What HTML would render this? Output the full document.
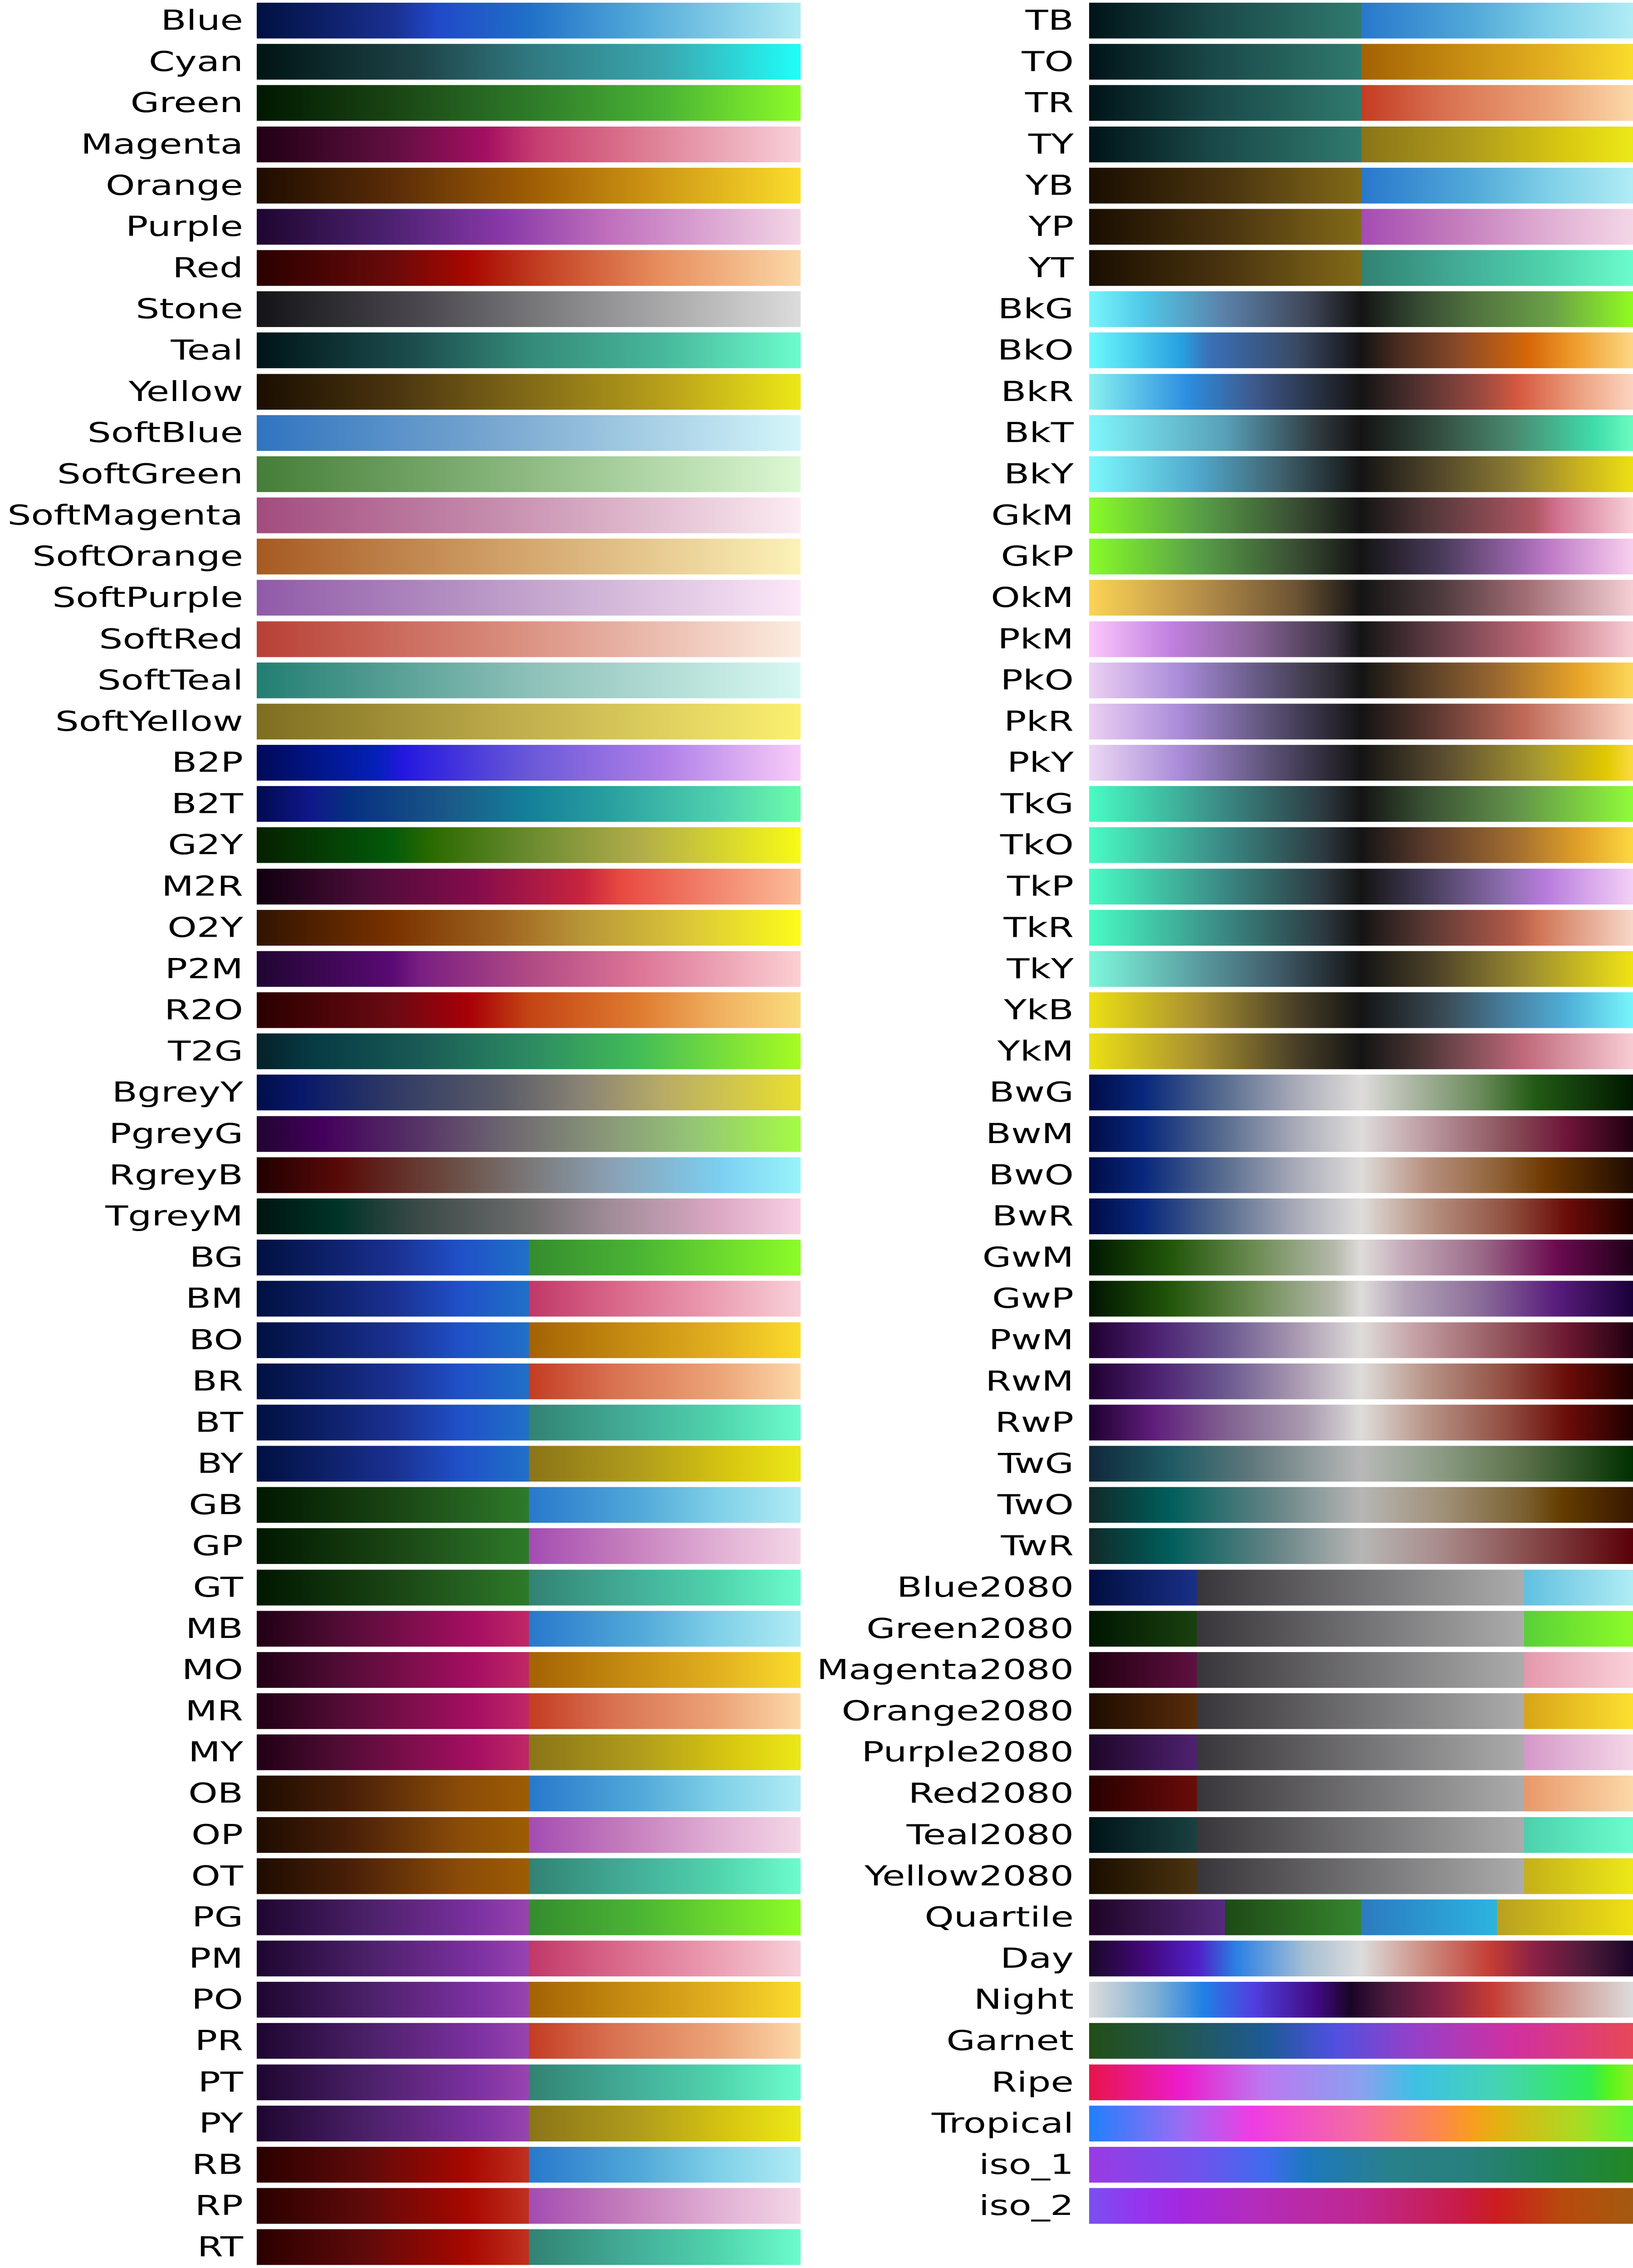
<!DOCTYPE html>
<html><head><meta charset="utf-8">
<style>
html,body{margin:0;padding:0;width:3600px;height:100vh;overflow:hidden;background:#fff;}
svg.root{display:block;width:3600px;height:100vh;}
.page{position:relative;width:3600px;height:6720px;background:#fff;font-family:"DejaVu Sans","Liberation Sans",sans-serif;}
.col{position:absolute;top:8px;}
.r{height:122.18px;position:relative;}
.r:last-child{height:106px;}
.l{position:absolute;top:0;height:106px;line-height:106px;font-size:82px;text-align:right;color:#000;white-space:nowrap;}
.b{position:absolute;top:0;height:106px;}
#L{left:0;width:1765px}
#L .l{left:0;width:536px}
#L .b{left:566px;width:1199px}
#R{left:1800px;width:1800px}
#R .l{left:0;width:567px}
#R .b{left:601px;width:1199px}
.h{display:flex;}
.h>i{flex:1;height:106px;display:block}
</style></head><body>
<svg class="root" viewBox="0 0 3600 6720" preserveAspectRatio="none" xmlns="http://www.w3.org/2000/svg">
<foreignObject x="0" y="0" width="3600" height="6720">
<div class="page" xmlns="http://www.w3.org/1999/xhtml">
<div class="col" id="L">
<div class="r"><div class="l">Blue</div><div class="b" style="background:linear-gradient(90deg,#001040,#1a3090 25%,#2148c8 33%,#2070c8 50%,#50a8d8 70%,#b0ecf4)"></div></div>
<div class="r"><div class="l">Cyan</div><div class="b" style="background:linear-gradient(90deg,#001414,#1e4448 30%,#307880 50%,#3aa8b0 75%,#20fefa)"></div></div>
<div class="r"><div class="l">Green</div><div class="b" style="background:linear-gradient(90deg,#001800,#1a4414 25%,#2e7a2a 50%,#4ab434 75%,#8cfc28)"></div></div>
<div class="r"><div class="l">Magenta</div><div class="b" style="background:linear-gradient(90deg,#200014,#600f40 25%,#a40f62 42%,#c84070 52%,#dc7890 70%,#f8d0d8)"></div></div>
<div class="r"><div class="l">Orange</div><div class="b" style="background:linear-gradient(90deg,#1e0c00,#5a2c08 25%,#9e5c04 50%,#c88e12 70%,#fadc2c)"></div></div>
<div class="r"><div class="l">Purple</div><div class="b" style="background:linear-gradient(90deg,#1e0630,#4e2272 25%,#8838a8 45%,#c070bc 65%,#f4d6e6)"></div></div>
<div class="r"><div class="l">Red</div><div class="b" style="background:linear-gradient(90deg,#2a0000,#6a0a0a 25%,#a80800 39%,#c84a2a 55%,#e89060 75%,#fcd8a8)"></div></div>
<div class="r"><div class="l">Stone</div><div class="b" style="background:linear-gradient(90deg,#141418,#4a484e 30%,#8a8a8c 60%,#dcdcdc)"></div></div>
<div class="r"><div class="l">Teal</div><div class="b" style="background:linear-gradient(90deg,#001418,#1e5050 30%,#348a78 50%,#48b89c 75%,#6cfccc)"></div></div>
<div class="r"><div class="l">Yellow</div><div class="b" style="background:linear-gradient(90deg,#1a0e00,#4a3410 25%,#826a18 50%,#b8a01a 75%,#ece818)"></div></div>
<div class="r"><div class="l">SoftBlue</div><div class="b" style="background:linear-gradient(90deg,#3074c0,#7aa8d0 45%,#d4f6fa)"></div></div>
<div class="r"><div class="l">SoftGreen</div><div class="b" style="background:linear-gradient(90deg,#457e38,#86b47a 45%,#dcf8d4)"></div></div>
<div class="r"><div class="l">SoftMagenta</div><div class="b" style="background:linear-gradient(90deg,#a24c7e,#c68eae 45%,#fcecf2)"></div></div>
<div class="r"><div class="l">SoftOrange</div><div class="b" style="background:linear-gradient(90deg,#a65a22,#d0a068 45%,#fcf2b8)"></div></div>
<div class="r"><div class="l">SoftPurple</div><div class="b" style="background:linear-gradient(90deg,#905aa8,#bc9cc8 45%,#fce8f8)"></div></div>
<div class="r"><div class="l">SoftRed</div><div class="b" style="background:linear-gradient(90deg,#b84036,#d88a7a 45%,#fcece0)"></div></div>
<div class="r"><div class="l">SoftTeal</div><div class="b" style="background:linear-gradient(90deg,#227e72,#8cc0b8 50%,#d8f8f2)"></div></div>
<div class="r"><div class="l">SoftYellow</div><div class="b" style="background:linear-gradient(90deg,#7e6e20,#bcaa4a 45%,#fcf070)"></div></div>
<div class="r"><div class="l">B2P</div><div class="b" style="background:linear-gradient(90deg,#000a58,#0420b8 22%,#2418e0 27%,#6a58d8 50%,#b080e8 75%,#f8ccf8)"></div></div>
<div class="r"><div class="l">B2T</div><div class="b" style="background:linear-gradient(90deg,#000a50,#10188a 10%,#063080 17%,#1a5888 35%,#14809a 50%,#2aa0a0 65%,#50d0ae 85%,#6cfcac)"></div></div>
<div class="r"><div class="l">G2Y</div><div class="b" style="background:linear-gradient(90deg,#062000,#045a0a 25%,#2a6a00 32%,#6a8a30 50%,#b0ac4a 70%,#f8fa16)"></div></div>
<div class="r"><div class="l">M2R</div><div class="b" style="background:linear-gradient(90deg,#100010,#4a0c38 20%,#840c4c 40%,#c8243e 60%,#e84a40 67%,#fcbc98)"></div></div>
<div class="r"><div class="l">O2Y</div><div class="b" style="background:linear-gradient(90deg,#301400,#7a3200 25%,#9e6420 45%,#b89638 60%,#dcc838 80%,#fcfc1a)"></div></div>
<div class="r"><div class="l">P2M</div><div class="b" style="background:linear-gradient(90deg,#200632,#5a0a74 25%,#7a1e82 30%,#b04a84 50%,#dc7496 70%,#fccfd2)"></div></div>
<div class="r"><div class="l">R2O</div><div class="b" style="background:linear-gradient(90deg,#2a0000,#6a0a12 25%,#a80008 39%,#c44414 50%,#de7a30 70%,#f0b060 85%,#fadc7c)"></div></div>
<div class="r"><div class="l">T2G</div><div class="b" style="background:linear-gradient(90deg,#062028,#063a44 10%,#1a5a56 30%,#2c8a62 50%,#42bc58 70%,#a8fc22)"></div></div>
<div class="r"><div class="l">BgreyY</div><div class="b" style="background:linear-gradient(90deg,#000e48,#08186a 8%,#303a64 25%,#5a5c68 45%,#8a8474 60%,#b8ac66 75%,#e8e030)"></div></div>
<div class="r"><div class="l">PgreyG</div><div class="b" style="background:linear-gradient(90deg,#200430,#44005c 12%,#563466 30%,#6c6470 45%,#8a9a78 65%,#94c476 80%,#a4fc44)"></div></div>
<div class="r"><div class="l">RgreyB</div><div class="b" style="background:linear-gradient(90deg,#200000,#580a08 15%,#6a4a40 35%,#7a7878 50%,#8aa0b4 65%,#7ccef0 85%,#98f4fa)"></div></div>
<div class="r"><div class="l">TgreyM</div><div class="b" style="background:linear-gradient(90deg,#001410,#003428 15%,#3c4a48 30%,#6c6c6c 50%,#a08c98 65%,#dca8c4 85%,#f8d0e4)"></div></div>
<div class="r"><div class="l">BG</div><div class="b h"><i style="background:linear-gradient(90deg,#001040,#1a3090 50%,#2050c8 75%,#2070c8)"></i><i style="background:linear-gradient(90deg,#358c2e,#4ab434 40%,#8cfc28)"></i></div></div>
<div class="r"><div class="l">BM</div><div class="b h"><i style="background:linear-gradient(90deg,#001040,#1a3090 50%,#2050c8 75%,#2070c8)"></i><i style="background:linear-gradient(90deg,#c03868,#d86488 30%,#eca0b4 70%,#f8d0d8)"></i></div></div>
<div class="r"><div class="l">BO</div><div class="b h"><i style="background:linear-gradient(90deg,#001040,#1a3090 50%,#2050c8 75%,#2070c8)"></i><i style="background:linear-gradient(90deg,#a46204,#c48a10 35%,#e2b020 70%,#fadc2c)"></i></div></div>
<div class="r"><div class="l">BR</div><div class="b h"><i style="background:linear-gradient(90deg,#001040,#1a3090 50%,#2050c8 75%,#2070c8)"></i><i style="background:linear-gradient(90deg,#c43c22,#d87050 30%,#eca478 70%,#fcd8a8)"></i></div></div>
<div class="r"><div class="l">BT</div><div class="b h"><i style="background:linear-gradient(90deg,#001040,#1a3090 50%,#2050c8 75%,#2070c8)"></i><i style="background:linear-gradient(90deg,#328272,#44b09a 40%,#50d4ac 70%,#6cfccc)"></i></div></div>
<div class="r"><div class="l">BY</div><div class="b h"><i style="background:linear-gradient(90deg,#001040,#1a3090 50%,#2050c8 75%,#2070c8)"></i><i style="background:linear-gradient(90deg,#8a7418,#b09c1c 40%,#d8c810 75%,#ece818)"></i></div></div>
<div class="r"><div class="l">GB</div><div class="b h"><i style="background:linear-gradient(90deg,#001800,#1a4414 50%,#2e7a2a)"></i><i style="background:linear-gradient(90deg,#2878cc,#50a8d8 40%,#80d0e8 70%,#b0ecf4)"></i></div></div>
<div class="r"><div class="l">GP</div><div class="b h"><i style="background:linear-gradient(90deg,#001800,#1a4414 50%,#2e7a2a)"></i><i style="background:linear-gradient(90deg,#a44cb2,#c47cbc 35%,#e0b0d4 70%,#f4d6e6)"></i></div></div>
<div class="r"><div class="l">GT</div><div class="b h"><i style="background:linear-gradient(90deg,#001800,#1a4414 50%,#2e7a2a)"></i><i style="background:linear-gradient(90deg,#328272,#44b09a 40%,#50d4ac 70%,#6cfccc)"></i></div></div>
<div class="r"><div class="l">MB</div><div class="b h"><i style="background:linear-gradient(90deg,#200014,#500c34 30%,#a60f62 80%,#c02866)"></i><i style="background:linear-gradient(90deg,#2878cc,#50a8d8 40%,#80d0e8 70%,#b0ecf4)"></i></div></div>
<div class="r"><div class="l">MO</div><div class="b h"><i style="background:linear-gradient(90deg,#200014,#500c34 30%,#a60f62 80%,#c02866)"></i><i style="background:linear-gradient(90deg,#a46204,#c48a10 35%,#e2b020 70%,#fadc2c)"></i></div></div>
<div class="r"><div class="l">MR</div><div class="b h"><i style="background:linear-gradient(90deg,#200014,#500c34 30%,#a60f62 80%,#c02866)"></i><i style="background:linear-gradient(90deg,#c43c22,#d87050 30%,#eca478 70%,#fcd8a8)"></i></div></div>
<div class="r"><div class="l">MY</div><div class="b h"><i style="background:linear-gradient(90deg,#200014,#500c34 30%,#a60f62 80%,#c02866)"></i><i style="background:linear-gradient(90deg,#8a7418,#b09c1c 40%,#d8c810 75%,#ece818)"></i></div></div>
<div class="r"><div class="l">OB</div><div class="b h"><i style="background:linear-gradient(90deg,#1e0c00,#4a2008 35%,#8a4c08 75%,#9e5c04)"></i><i style="background:linear-gradient(90deg,#2878cc,#50a8d8 40%,#80d0e8 70%,#b0ecf4)"></i></div></div>
<div class="r"><div class="l">OP</div><div class="b h"><i style="background:linear-gradient(90deg,#1e0c00,#4a2008 35%,#8a4c08 75%,#9e5c04)"></i><i style="background:linear-gradient(90deg,#a44cb2,#c47cbc 35%,#e0b0d4 70%,#f4d6e6)"></i></div></div>
<div class="r"><div class="l">OT</div><div class="b h"><i style="background:linear-gradient(90deg,#1e0c00,#4a2008 35%,#8a4c08 75%,#9e5c04)"></i><i style="background:linear-gradient(90deg,#328272,#44b09a 40%,#50d4ac 70%,#6cfccc)"></i></div></div>
<div class="r"><div class="l">PG</div><div class="b h"><i style="background:linear-gradient(90deg,#1e0630,#4a2068 40%,#7c30a0 80%,#9844b0)"></i><i style="background:linear-gradient(90deg,#358c2e,#4ab434 40%,#8cfc28)"></i></div></div>
<div class="r"><div class="l">PM</div><div class="b h"><i style="background:linear-gradient(90deg,#1e0630,#4a2068 40%,#7c30a0 80%,#9844b0)"></i><i style="background:linear-gradient(90deg,#c03868,#d86488 30%,#eca0b4 70%,#f8d0d8)"></i></div></div>
<div class="r"><div class="l">PO</div><div class="b h"><i style="background:linear-gradient(90deg,#1e0630,#4a2068 40%,#7c30a0 80%,#9844b0)"></i><i style="background:linear-gradient(90deg,#a46204,#c48a10 35%,#e2b020 70%,#fadc2c)"></i></div></div>
<div class="r"><div class="l">PR</div><div class="b h"><i style="background:linear-gradient(90deg,#1e0630,#4a2068 40%,#7c30a0 80%,#9844b0)"></i><i style="background:linear-gradient(90deg,#c43c22,#d87050 30%,#eca478 70%,#fcd8a8)"></i></div></div>
<div class="r"><div class="l">PT</div><div class="b h"><i style="background:linear-gradient(90deg,#1e0630,#4a2068 40%,#7c30a0 80%,#9844b0)"></i><i style="background:linear-gradient(90deg,#328272,#44b09a 40%,#50d4ac 70%,#6cfccc)"></i></div></div>
<div class="r"><div class="l">PY</div><div class="b h"><i style="background:linear-gradient(90deg,#1e0630,#4a2068 40%,#7c30a0 80%,#9844b0)"></i><i style="background:linear-gradient(90deg,#8a7418,#b09c1c 40%,#d8c810 75%,#ece818)"></i></div></div>
<div class="r"><div class="l">RB</div><div class="b h"><i style="background:linear-gradient(90deg,#2a0000,#600a0a 40%,#a80800 78%,#c03020)"></i><i style="background:linear-gradient(90deg,#2878cc,#50a8d8 40%,#80d0e8 70%,#b0ecf4)"></i></div></div>
<div class="r"><div class="l">RP</div><div class="b h"><i style="background:linear-gradient(90deg,#2a0000,#600a0a 40%,#a80800 78%,#c03020)"></i><i style="background:linear-gradient(90deg,#a44cb2,#c47cbc 35%,#e0b0d4 70%,#f4d6e6)"></i></div></div>
<div class="r"><div class="l">RT</div><div class="b h"><i style="background:linear-gradient(90deg,#2a0000,#600a0a 40%,#a80800 78%,#c03020)"></i><i style="background:linear-gradient(90deg,#328272,#44b09a 40%,#50d4ac 70%,#6cfccc)"></i></div></div>
</div>

<div class="col" id="R">
<div class="r"><div class="l">TB</div><div class="b h"><i style="background:linear-gradient(90deg,#001418,#1a4848 45%,#307a6e)"></i><i style="background:linear-gradient(90deg,#2878cc,#50a8d8 40%,#80d0e8 70%,#b0ecf4)"></i></div></div>
<div class="r"><div class="l">TO</div><div class="b h"><i style="background:linear-gradient(90deg,#001418,#1a4848 45%,#307a6e)"></i><i style="background:linear-gradient(90deg,#a46204,#c48a10 35%,#e2b020 70%,#fadc2c)"></i></div></div>
<div class="r"><div class="l">TR</div><div class="b h"><i style="background:linear-gradient(90deg,#001418,#1a4848 45%,#307a6e)"></i><i style="background:linear-gradient(90deg,#c43c22,#d87050 30%,#eca478 70%,#fcd8a8)"></i></div></div>
<div class="r"><div class="l">TY</div><div class="b h"><i style="background:linear-gradient(90deg,#001418,#1a4848 45%,#307a6e)"></i><i style="background:linear-gradient(90deg,#8a7418,#b09c1c 40%,#d8c810 75%,#ece818)"></i></div></div>
<div class="r"><div class="l">YB</div><div class="b h"><i style="background:linear-gradient(90deg,#1a0e00,#4a3410 50%,#826a18)"></i><i style="background:linear-gradient(90deg,#2878cc,#50a8d8 40%,#80d0e8 70%,#b0ecf4)"></i></div></div>
<div class="r"><div class="l">YP</div><div class="b h"><i style="background:linear-gradient(90deg,#1a0e00,#4a3410 50%,#826a18)"></i><i style="background:linear-gradient(90deg,#a44cb2,#c47cbc 35%,#e0b0d4 70%,#f4d6e6)"></i></div></div>
<div class="r"><div class="l">YT</div><div class="b h"><i style="background:linear-gradient(90deg,#1a0e00,#4a3410 50%,#826a18)"></i><i style="background:linear-gradient(90deg,#328272,#44b09a 40%,#50d4ac 70%,#6cfccc)"></i></div></div>
<div class="r"><div class="l">BkG</div><div class="b" style="background:linear-gradient(90deg,#78f6fc,#50c8e8 10%,#5a80a8 25%,#40485a 40%,#141414 50%,#344832 60%,#50703e 70%,#6aa048 85%,#90fc20)"></div></div>
<div class="r"><div class="l">BkO</div><div class="b" style="background:linear-gradient(90deg,#6cfafc,#28a0e0 17%,#3a70b8 22%,#3a4a66 38%,#141414 50%,#4a2c20 57%,#8a4a28 68%,#d86808 81%,#f0a030 90%,#fcd884)"></div></div>
<div class="r"><div class="l">BkR</div><div class="b" style="background:linear-gradient(90deg,#88f2f0,#2c8ee0 18%,#3e5a8e 30%,#222630 45%,#141414 50%,#503030 60%,#9a4a40 72%,#d65a40 79%,#eca080 90%,#fcd4c0)"></div></div>
<div class="r"><div class="l">BkT</div><div class="b" style="background:linear-gradient(90deg,#80f6fc,#58a0b8 25%,#303a3e 42%,#141414 50%,#30443a 62%,#4a8a70 78%,#40dcaa 93%,#6cfcc0)"></div></div>
<div class="r"><div class="l">BkY</div><div class="b" style="background:linear-gradient(90deg,#7cf8fc,#50a8cc 20%,#40626e 35%,#141414 50%,#4a4028 62%,#8a7a34 78%,#c8b020 90%,#ece014)"></div></div>
<div class="r"><div class="l">GkM</div><div class="b" style="background:linear-gradient(90deg,#88fc28,#58a048 20%,#3a4e34 38%,#141414 50%,#503638 62%,#b05864 82%,#d07090 86%,#f8d0d8)"></div></div>
<div class="r"><div class="l">GkP</div><div class="b" style="background:linear-gradient(90deg,#88fc28,#58a048 20%,#3a4e34 38%,#141414 50%,#4a3c5c 65%,#a068b0 80%,#c07cc8 85%,#f8d0ee)"></div></div>
<div class="r"><div class="l">OkM</div><div class="b" style="background:linear-gradient(90deg,#fcd454,#b8904a 20%,#6c5434 38%,#141414 50%,#503c40 65%,#a06c74 80%,#f4d0d4)"></div></div>
<div class="r"><div class="l">PkM</div><div class="b" style="background:linear-gradient(90deg,#fcc8fc,#c080e0 15%,#8a6498 30%,#3c3444 45%,#141414 50%,#583840 62%,#c06a78 82%,#f8ccd4)"></div></div>
<div class="r"><div class="l">PkO</div><div class="b" style="background:linear-gradient(90deg,#ecd0f4,#a88ad8 17%,#6a5e8a 30%,#2e2c34 45%,#141414 50%,#5a4028 62%,#9a6830 75%,#e8a428 90%,#fcd85a)"></div></div>
<div class="r"><div class="l">PkR</div><div class="b" style="background:linear-gradient(90deg,#ecd0f4,#a88ad8 17%,#6a5e8a 30%,#141414 50%,#5a3830 63%,#c06a58 80%,#fcd4c4)"></div></div>
<div class="r"><div class="l">PkY</div><div class="b" style="background:linear-gradient(90deg,#ecd8f4,#a88ad8 17%,#6a5e8a 30%,#141414 50%,#5a4c30 65%,#a89a30 83%,#e0c800 95%,#fcdc40)"></div></div>
<div class="r"><div class="l">TkG</div><div class="b" style="background:linear-gradient(90deg,#48fcc4,#3a8884 25%,#2c3a40 43%,#141414 50%,#3a5234 62%,#62904a 78%,#90fc3a)"></div></div>
<div class="r"><div class="l">TkO</div><div class="b" style="background:linear-gradient(90deg,#48fcc4,#3a8884 25%,#2c3a40 43%,#141414 50%,#5a3a2c 62%,#a06c30 78%,#e0a028 90%,#fcd840)"></div></div>
<div class="r"><div class="l">TkP</div><div class="b" style="background:linear-gradient(90deg,#48fcc4,#3a8884 25%,#2c3a40 43%,#141414 50%,#4a4060 63%,#8a6cac 76%,#b87cdc 84%,#f4d0f8)"></div></div>
<div class="r"><div class="l">TkR</div><div class="b" style="background:linear-gradient(90deg,#48fcc4,#3a8884 25%,#2c3a40 43%,#141414 50%,#5a3832 62%,#b05a4a 78%,#d07858 83%,#f8d8c8)"></div></div>
<div class="r"><div class="l">TkY</div><div class="b" style="background:linear-gradient(90deg,#7ef8dc,#5a9ca0 20%,#405a68 35%,#141414 50%,#4a4028 63%,#9a8a30 80%,#f0e414)"></div></div>
<div class="r"><div class="l">YkB</div><div class="b" style="background:linear-gradient(90deg,#ece014,#a89030 20%,#4a4028 38%,#141414 50%,#3a4a54 65%,#4a8cb0 80%,#50b0d8 88%,#78f6fc)"></div></div>
<div class="r"><div class="l">YkM</div><div class="b" style="background:linear-gradient(90deg,#ece014,#a89030 20%,#4a4028 38%,#141414 50%,#503838 62%,#c06a7c 80%,#f8ccd4)"></div></div>
<div class="r"><div class="l">BwG</div><div class="b" style="background:linear-gradient(90deg,#000c48,#08287c 10%,#5a6e90 25%,#a8aab8 38%,#dedcda 50%,#a8b4a0 60%,#6a8a5a 72%,#225a14 82%,#001800)"></div></div>
<div class="r"><div class="l">BwM</div><div class="b" style="background:linear-gradient(90deg,#000c48,#08287c 10%,#5a6e90 25%,#a8aab8 38%,#dedcda 50%,#bc9aa2 62%,#8a505a 77%,#6e1438 88%,#200010)"></div></div>
<div class="r"><div class="l">BwO</div><div class="b" style="background:linear-gradient(90deg,#000c48,#08287c 10%,#5a6e90 25%,#a8aab8 38%,#dedcda 50%,#b89080 62%,#906238 75%,#6e3800 84%,#200c00)"></div></div>
<div class="r"><div class="l">BwR</div><div class="b" style="background:linear-gradient(90deg,#000c48,#08287c 10%,#5a6e90 25%,#a8aab8 38%,#dedcda 50%,#b89484 62%,#905040 77%,#6a0c08 88%,#200000)"></div></div>
<div class="r"><div class="l">GwM</div><div class="b" style="background:linear-gradient(90deg,#001800,#22560a 15%,#6a8a50 30%,#b4b8aa 45%,#dedcda 50%,#c4aab8 58%,#9a6a88 72%,#6c0a50 86%,#200018)"></div></div>
<div class="r"><div class="l">GwP</div><div class="b" style="background:linear-gradient(90deg,#001400,#22560a 15%,#6a8a50 30%,#b4b8aa 45%,#dedcda 50%,#b4a4b8 58%,#8a6c98 72%,#581c7c 86%,#1a0038)"></div></div>
<div class="r"><div class="l">PwM</div><div class="b" style="background:linear-gradient(90deg,#1e0030,#4c2070 12%,#6a5890 25%,#a898b0 38%,#dedcda 50%,#c4a0a4 60%,#905058 77%,#6c1830 88%,#200010)"></div></div>
<div class="r"><div class="l">RwM</div><div class="b" style="background:linear-gradient(90deg,#1e0030,#4c2070 12%,#6a5890 25%,#a898b0 38%,#dedcda 50%,#b89488 62%,#904c40 77%,#6a0c08 88%,#200000)"></div></div>
<div class="r"><div class="l">RwP</div><div class="b" style="background:linear-gradient(90deg,#1e0030,#601e7c 12%,#806090 25%,#aa9cb0 40%,#dedcda 50%,#b89488 62%,#904c40 77%,#6a0c08 88%,#200000)"></div></div>
<div class="r"><div class="l">TwG</div><div class="b" style="background:linear-gradient(90deg,#10283a,#1e5a64 15%,#60787c 30%,#b8b8b8 50%,#8a9a82 65%,#5a7048 80%,#003000)"></div></div>
<div class="r"><div class="l">TwO</div><div class="b" style="background:linear-gradient(90deg,#102a28,#005e5c 15%,#6a8688 35%,#b6b6b4 50%,#a09078 65%,#7a6030 80%,#643c00 87%,#381800)"></div></div>
<div class="r"><div class="l">TwR</div><div class="b" style="background:linear-gradient(90deg,#102a28,#005e5c 15%,#6a8688 35%,#b6b6b4 50%,#a88a8a 65%,#8a5050 80%,#5a0008)"></div></div>
<div class="r"><div class="l">Blue2080</div><div class="b" style="background:linear-gradient(90deg,#000e40,#1a3088 19.8%,#38363a 19.8%,#acacac 80%,#60c0e0 80%,#b0ecf4)"></div></div>
<div class="r"><div class="l">Green2080</div><div class="b" style="background:linear-gradient(90deg,#001600,#1a4010 19.8%,#38363a 19.8%,#acacac 80%,#58d038 80%,#8cfc28)"></div></div>
<div class="r"><div class="l">Magenta2080</div><div class="b" style="background:linear-gradient(90deg,#200010,#601040 19.8%,#38363a 19.8%,#acacac 80%,#e498ac 80%,#fad0d8)"></div></div>
<div class="r"><div class="l">Orange2080</div><div class="b" style="background:linear-gradient(90deg,#1e0c00,#582c0a 19.8%,#38363a 19.8%,#acacac 80%,#d8a418 80%,#fce030)"></div></div>
<div class="r"><div class="l">Purple2080</div><div class="b" style="background:linear-gradient(90deg,#1e0628,#4e2270 19.8%,#38363a 19.8%,#acacac 80%,#d498c8 80%,#f4d6e6)"></div></div>
<div class="r"><div class="l">Red2080</div><div class="b" style="background:linear-gradient(90deg,#280000,#6a0c0a 19.8%,#38363a 19.8%,#acacac 80%,#e8986a 80%,#fcd8a8)"></div></div>
<div class="r"><div class="l">Teal2080</div><div class="b" style="background:linear-gradient(90deg,#001418,#1a4040 19.8%,#38363a 19.8%,#acacac 80%,#4cd0ac 80%,#6cfccc)"></div></div>
<div class="r"><div class="l">Yellow2080</div><div class="b" style="background:linear-gradient(90deg,#1a0e00,#4a3410 19.8%,#38363a 19.8%,#acacac 80%,#c4b018 80%,#ece818)"></div></div>
<div class="r"><div class="l">Quartile</div><div class="b" style="background:linear-gradient(90deg,#1e0424,#562a80 25%,#1e4a16 25%,#36862e 50%,#2c7ac0 50%,#2cb4e0 75%,#b8a020 75%,#f0e014)"></div></div>
<div class="r"><div class="l">Day</div><div class="b" style="background:linear-gradient(90deg,#1a0828,#420878 10%,#5020c8 20%,#2a80e4 27%,#a8c0d4 40%,#dcdcdc 50%,#cc8c80 62%,#c43c34 74%,#8a2046 82%,#4a1a38 92%,#1a0428)"></div></div>
<div class="r"><div class="l">Night</div><div class="b" style="background:linear-gradient(90deg,#dcdcdc,#80b0d4 12%,#2080e4 21%,#5040e0 30%,#400a80 42%,#1a0428 48%,#4a1a3c 55%,#8a2448 65%,#c43c34 74%,#cc8a80 85%,#dcdcdc)"></div></div>
<div class="r"><div class="l">Garnet</div><div class="b" style="background:linear-gradient(90deg,#224e18,#225850 17%,#1e5a98 33%,#5050e0 45%,#9640c8 60%,#d030a0 78%,#e84858)"></div></div>
<div class="r"><div class="l">Ripe</div><div class="b" style="background:linear-gradient(90deg,#e8144a,#ec1ccc 17%,#bc78f0 32%,#8aa0f0 50%,#3ec0e4 60%,#44d4b4 75%,#30ec54 92%,#5cf41a 96%,#90f020)"></div></div>
<div class="r"><div class="l">Tropical</div><div class="b" style="background:linear-gradient(90deg,#2080fc,#9a6cf4 17%,#ee3ce4 30%,#f46ca0 50%,#fc8a48 65%,#f89c20 70%,#e4b010 75%,#a8dc24 90%,#60f830)"></div></div>
<div class="r"><div class="l">iso_1</div><div class="b" style="background:linear-gradient(90deg,#9a3ae4,#7052ec 20%,#3e6cec 33%,#1e78c0 40%,#28808c 55%,#28807c 70%,#1e8450 85%,#228824)"></div></div>
<div class="r"><div class="l">iso_2</div><div class="b" style="background:linear-gradient(90deg,#7a50f0,#9238f0 8%,#a428e0 17%,#b42cbc 30%,#c02890 50%,#c81c48 68%,#cc1c20 75%,#b84a0c 87%,#a45a10)"></div></div>
</div>
</div>
</foreignObject>
</svg>
</body></html>
